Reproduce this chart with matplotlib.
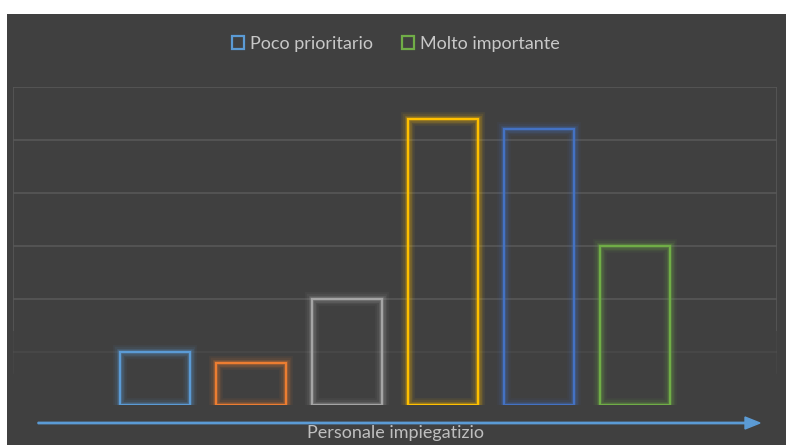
import matplotlib
matplotlib.use("Agg")
import matplotlib.pyplot as plt
from matplotlib.patches import Rectangle, FancyArrow
import numpy as np

plt.rcParams['font.family'] = ['Lato', 'DejaVu Sans']

# dati
categoria = "Personale impiegatizio"
serie = ["Poco prioritario", "Serie 2", "Serie 3", "Serie 4", "Serie 5", "Molto importante"]
valori = [5, 4, 10, 27, 26, 15]
colori = ["#5B9BD5", "#ED7D31", "#A5A5A5", "#FFC000", "#4472C4", "#70AD47"]
legenda = ["Poco prioritario", "Molto importante"]
griglia = [5, 10, 15, 20, 25, 30]

BG = "#404040"
W, H = 791, 445

fig = plt.figure(figsize=(W / 100, H / 100), dpi=100, facecolor="white")
# pannello scuro
fig.patches.append(Rectangle((7 / W, 0), (786 - 7) / W, 1 - 14 / H,
                             transform=fig.transFigure, facecolor=BG,
                             edgecolor="none", zorder=-10))

ax = fig.add_axes([13 / W, 1 - 405 / H, (777 - 13) / W, (405 - 87) / H])
ax.set_facecolor("none")
for s in ax.spines.values():
    s.set_visible(False)
ax.set_xticks([])
ax.set_yticks([])
ax.set_ylim(0, 30)
x = np.arange(len(valori))
ax.set_xlim(-1.484, len(valori) - 1 + 1.484)

# griglia (sfuma in basso)
for g in griglia:
    a = 1.0 if g >= 10 else 0.4
    ax.axhline(g, color="#575757", lw=1.2, alpha=a, zorder=1)
x0, x1 = ax.get_xlim()
for xe in (x0, x1):
    ax.plot([xe, xe], [7, 30], color="#575757", lw=1.2, zorder=1,
            solid_capstyle="butt")
    ax.plot([xe, xe], [3, 7], color="#575757", lw=1.2, alpha=0.3, zorder=1)

# barre vuote con bagliore
for xi, v, c in zip(x, valori, colori):
    for lw, a in [(10, 0.06), (7.5, 0.09), (5, 0.14), (3.2, 0.22)]:
        ax.bar(xi, v, width=0.73, fill=False, edgecolor=c, linewidth=lw,
               alpha=a, zorder=2)
    ax.bar(xi, v, width=0.73, fill=False, edgecolor=c, linewidth=1.6, zorder=3)

# legenda
handles = [Rectangle((0, 0), 1, 1, fill=False, edgecolor=colori[0], lw=1.6),
           Rectangle((0, 0), 1, 1, fill=False, edgecolor=colori[-1], lw=1.6)]
fig.legend(handles, legenda, loc="center", bbox_to_anchor=(0.5, 1 - 44 / H),
           ncol=2, frameon=False, handlelength=0.7, handleheight=0.7,
           handletextpad=0.3, columnspacing=1.6, fontsize=13,
           labelcolor="#C8C8C8")

# asse con freccia
fig.patches.append(FancyArrow(
    38 / W, 1 - 423 / H, (745 - 38) / W, 0, width=1.4 / H,
    head_width=12 / H, head_length=15 / W, length_includes_head=False,
    transform=fig.transFigure, color="#5B9BD5", zorder=1))
fig.text(0.5, 1 - 433 / H, categoria, ha="center", va="center",
         fontsize=13, color="#BFBFBF", zorder=2)

fig.savefig("out.png", dpi=100, facecolor="white")
